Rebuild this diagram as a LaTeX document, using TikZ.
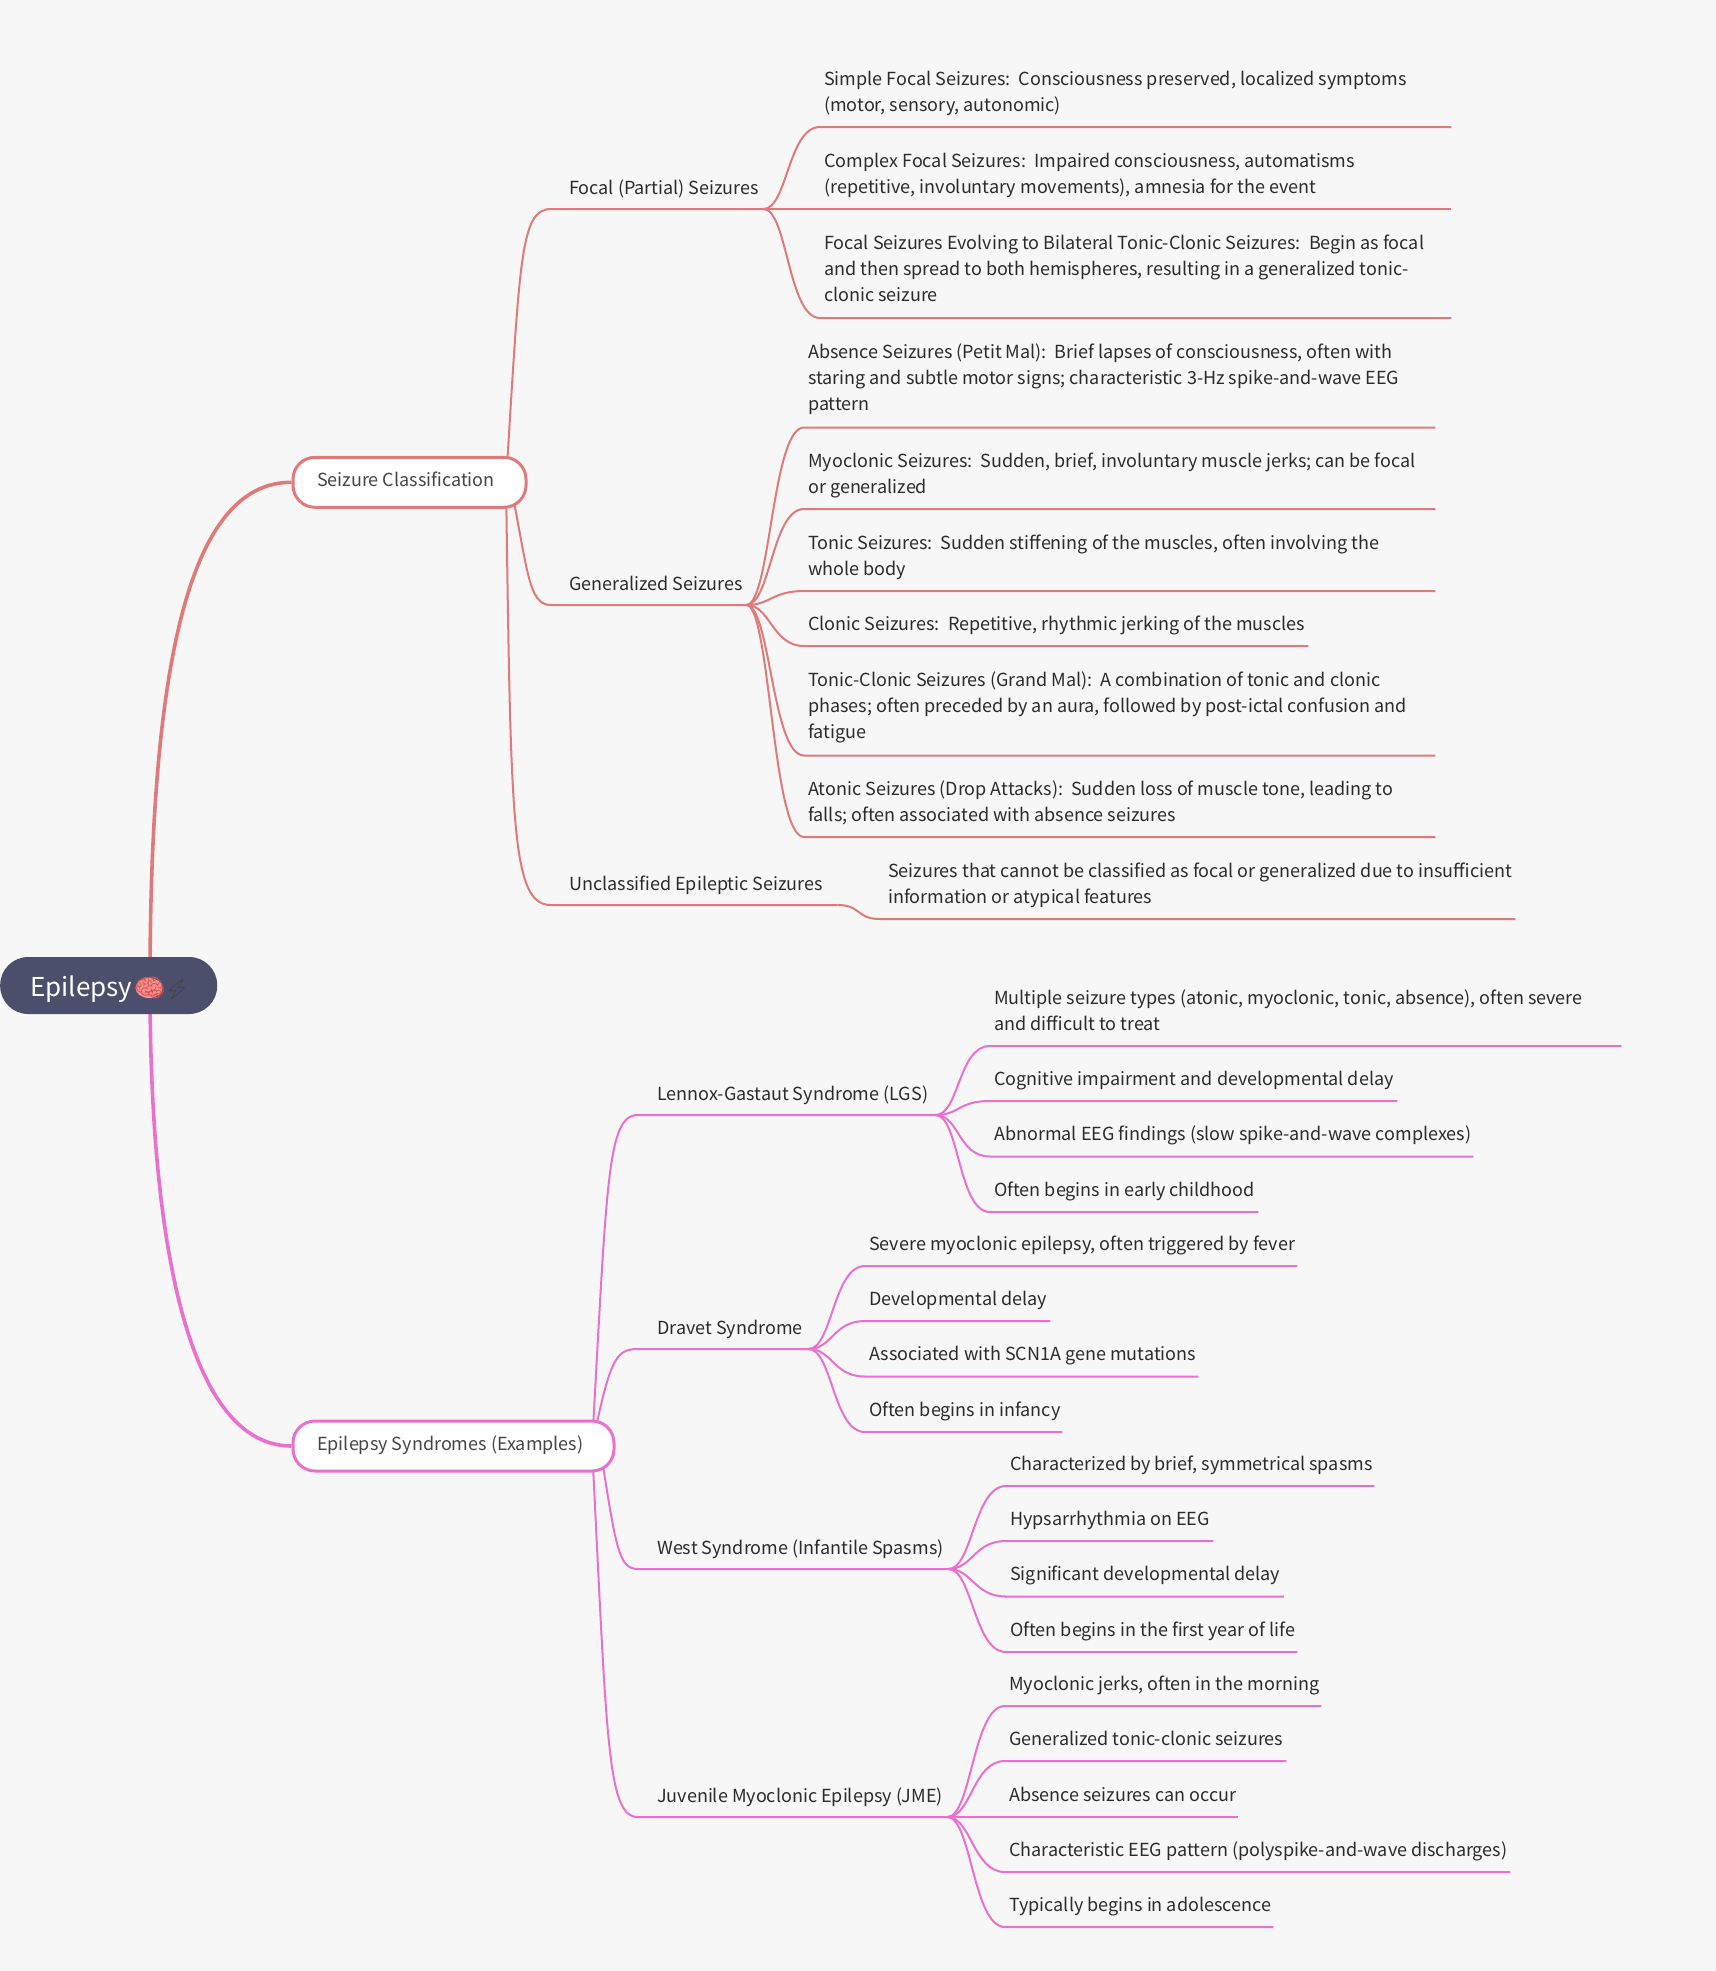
\documentclass[tikz,border=0pt]{standalone}
\usepackage{fontspec}
\setmainfont{Noto Sans CJK SC}
\newfontfamily\emojifont{Noto Emoji}
\usetikzlibrary{calc}
\definecolor{bgc}{HTML}{F7F7F7}
\definecolor{rootc}{HTML}{4C4F6B}
\definecolor{redc}{HTML}{E07A7A}
\definecolor{pinkc}{HTML}{EA70CE}
\definecolor{txtc}{HTML}{2B2B2B}
\definecolor{subtxt}{HTML}{454545}
\definecolor{brainc}{HTML}{F58E8E}
\definecolor{braind}{HTML}{D9534F}
\pgfdeclarelayer{back}
\pgfdeclarelayer{bg}
\pgfsetlayers{back,bg,main}
\tikzset{
  x=1pt,y=-1pt,
  leafnode/.style={inner xsep=0pt,inner ysep=8pt,anchor=south west,text=txtc,font=\fontsize{18}{26}\selectfont},
  branchlabel/.style={inner ysep=6.8pt},
  threeline/.style={inner ysep=8.8pt},
  subnode/.style={draw=#1,line width=3pt,fill=white,rounded corners=22pt,text=subtxt,font=\fontsize{18}{26}\selectfont,inner sep=0pt,anchor=west},
  rootnode/.style={fill=rootc,rounded corners=28pt,text=white,font=\fontsize{26}{32}\selectfont,inner sep=0pt,anchor=west},
  rootlink/.style={line width=3.6pt,#1},
  sublink/.style={line width=2pt,#1},
}
\newlength\leafw
% [options], name, x0, x1, y (rule), inset, text
\newcommand{\leaf}[7][]{%
  \pgfmathsetlength\leafw{#4-#3}%
  \node[leafnode,#1] (#2) at (#3,#5) {\makebox[\leafw][l]{\hspace{#6pt}\begin{tabular}[b]{@{}l@{}}#7\end{tabular}}};}
\newcommand{\link}[4][32]{%
  \draw[sublink=#2] (#3.south east) .. controls +(24,0) and ($(#4.south west)+(-#1,0)$) .. (#4.south west) -- (#4.south east);}
\newcommand{\branch}[5]{% colour, from, ctrl1, ctrl2, node
  \draw[sublink=#1] (#2) .. controls (#3) and (#4) .. (#5.south west) -- (#5.south east);}
\begin{document}
\begin{tikzpicture}
\useasboundingbox (0,0) rectangle (1716,1971);
\begin{pgfonlayer}{back}
\fill[bgc] (0,0) rectangle (1716,1971);
\end{pgfonlayer}
% root and first level
\node[rootnode,minimum width=217pt,minimum height=57pt] (root) at (0,985.5) {};
\node[font=\fontsize{26}{32}\selectfont,text=white,anchor=base west,inner sep=0pt] (rootlabel) at (30,996) {Epilepsy};
\fill[brainc] (149,988) ellipse (13.5pt and 10pt);
\node[font=\emojifont\fontsize{25}{32}\selectfont,text=braind,anchor=base west,inner sep=0pt] (brain) at (134,996) {\symbol{"1F9E0}};
\node[font=\emojifont\fontsize{20}{32}\selectfont,text=black!75,anchor=base west,inner sep=0pt] (bolt) at (164,996) {\symbol{"26A1}};
\node[subnode=redc,minimum width=233pt,minimum height=50pt] (sc) at (291.5,482.3) {};
\node[anchor=base west,inner sep=0pt,text=subtxt,font=\fontsize{18}{26}\selectfont] (sclabel) at (317,486.5) {Seizure Classification};
\node[subnode=pinkc,minimum width=321pt,minimum height=50pt] (es) at (291.5,1446) {};
\node[anchor=base west,inner sep=0pt,text=subtxt,font=\fontsize{18}{26}\selectfont] (eslabel) at (317,1450) {Epilepsy Syndromes (Examples)};
% second level
\leaf[branchlabel]{focal}{551}{763}{209}{18}{Focal (Partial) Seizures}
\leaf[branchlabel]{gen}{551}{746}{605}{18}{Generalized Seizures}
\leaf[branchlabel]{unc}{551}{837}{905}{18}{Unclassified Epileptic Seizures}
\leaf[branchlabel]{lgs}{638}{935}{1115}{19}{Lennox-Gastaut Syndrome (LGS)}
\leaf[branchlabel]{dra}{638}{808}{1349}{19}{Dravet Syndrome}
\leaf[branchlabel]{wes}{638}{948}{1569}{19}{West Syndrome (Infantile Spasms)}
\leaf[branchlabel]{jme}{638}{947}{1817}{19}{Juvenile Myoclonic Epilepsy (JME)}
% leaves
\leaf{f1}{820}{1451}{127}{4}{Simple Focal Seizures:\ \ Consciousness preserved, localized symptoms\\(motor, sensory, autonomic)}
\leaf{f2}{820}{1451}{209}{4}{Complex Focal Seizures:\ \ Impaired consciousness, automatisms\\(repetitive, involuntary movements), amnesia for the event}
\leaf[threeline]{f3}{820}{1451}{318}{4}{Focal Seizures Evolving to Bilateral Tonic-Clonic Seizures:\ \ Begin as focal\\and then spread to both hemispheres, resulting in a generalized tonic-\\clonic seizure}
\leaf[threeline]{g1}{804}{1435}{427.5}{4}{Absence Seizures (Petit Mal):\ \ Brief lapses of consciousness, often with\\staring and subtle motor signs; characteristic 3-Hz spike-and-wave EEG\\pattern}
\leaf{g2}{804}{1435}{509}{4}{Myoclonic Seizures:\ \ Sudden, brief, involuntary muscle jerks; can be focal\\or generalized}
\leaf{g3}{804}{1435}{591}{4}{Tonic Seizures:\ \ Sudden stiffening of the muscles, often involving the\\whole body}
\leaf{g4}{804}{1308}{646}{4}{Clonic Seizures:\ \ Repetitive, rhythmic jerking of the muscles}
\leaf[threeline]{g5}{804}{1435}{755.5}{4}{Tonic-Clonic Seizures (Grand Mal):\ \ A combination of tonic and clonic\\phases; often preceded by an aura, followed by post-ictal confusion and\\fatigue}
\leaf{g6}{804}{1435}{837}{4}{Atonic Seizures (Drop Attacks):\ \ Sudden loss of muscle tone, leading to\\falls; often associated with absence seizures}
\leaf{u1}{880}{1515}{919}{8}{Seizures that cannot be classified as focal or generalized due to insufficient\\information or atypical features}
\leaf{l1}{990}{1621}{1046}{4}{Multiple seizure types (atonic, myoclonic, tonic, absence), often severe\\and difficult to treat}
\leaf{l2}{990}{1397}{1101}{4}{Cognitive impairment and developmental delay}
\leaf{l3}{990}{1473}{1156.5}{4}{Abnormal EEG findings (slow spike-and-wave complexes)}
\leaf{l4}{990}{1258}{1212}{4}{Often begins in early childhood}
\leaf{d1}{865}{1297}{1266}{4}{Severe myoclonic epilepsy, often triggered by fever}
\leaf{d2}{865}{1050}{1321}{4}{Developmental delay}
\leaf{d3}{865}{1198}{1376.5}{4}{Associated with SCN1A gene mutations}
\leaf{d4}{865}{1062}{1432}{4}{Often begins in infancy}
\leaf{w1}{1006}{1374}{1486}{4}{Characterized by brief, symmetrical spasms}
\leaf{w2}{1006}{1213}{1541}{4}{Hypsarrhythmia on EEG}
\leaf{w3}{1006}{1283.5}{1596.5}{4}{Significant developmental delay}
\leaf{w4}{1006}{1297}{1652}{4}{Often begins in the first year of life}
\leaf{j1}{1005}{1321}{1706}{4}{Myoclonic jerks, often in the morning}
\leaf{j2}{1005}{1286}{1761}{4}{Generalized tonic-clonic seizures}
\leaf{j3}{1005}{1238}{1817}{4}{Absence seizures can occur}
\leaf{j4}{1005}{1510}{1872}{4}{Characteristic EEG pattern (polyspike-and-wave discharges)}
\leaf{j5}{1005}{1273}{1927}{4}{Typically begins in adolescence}
\begin{pgfonlayer}{bg}
\coordinate (rt) at (150,985);
\coordinate (sco) at (506,482);
\coordinate (scg) at (510,482);
\coordinate (eso) at (592,1446);
\coordinate (esw) at (600,1446);
\draw[rootlink=redc] (rt) .. controls (150,660) and (190,482) .. (sc.west);
\draw[rootlink=pinkc] (rt) .. controls (150,1250) and (190,1446) .. (es.west);
\branch{redc}{sco}{520,260}{520,209}{focal}
\branch{redc}{scg}{528,570}{528,605}{gen}
\branch{redc}{sco}{511,825}{511,905}{unc}
\branch{pinkc}{eso}{607,1181}{607,1115}{lgs}
\branch{pinkc}{eso}{610,1360}{615,1349}{dra}
\branch{pinkc}{esw}{616,1550}{619,1569}{wes}
\branch{pinkc}{eso}{607,1742}{607,1817}{jme}
\foreach \k in {f1,f2,f3} {\link{redc}{focal}{\k}}
\foreach \k in {g1,g2,g3,g4,g5,g6} {\link{redc}{gen}{\k}}
\link[24]{redc}{unc}{u1}
\foreach \k in {l1,l2,l3,l4} {\link{pinkc}{lgs}{\k}}
\foreach \k in {d1,d2,d3,d4} {\link{pinkc}{dra}{\k}}
\foreach \k in {w1,w2,w3,w4} {\link{pinkc}{wes}{\k}}
\foreach \k in {j1,j2,j3,j4,j5} {\link{pinkc}{jme}{\k}}
\end{pgfonlayer}
\end{tikzpicture}
\end{document}
